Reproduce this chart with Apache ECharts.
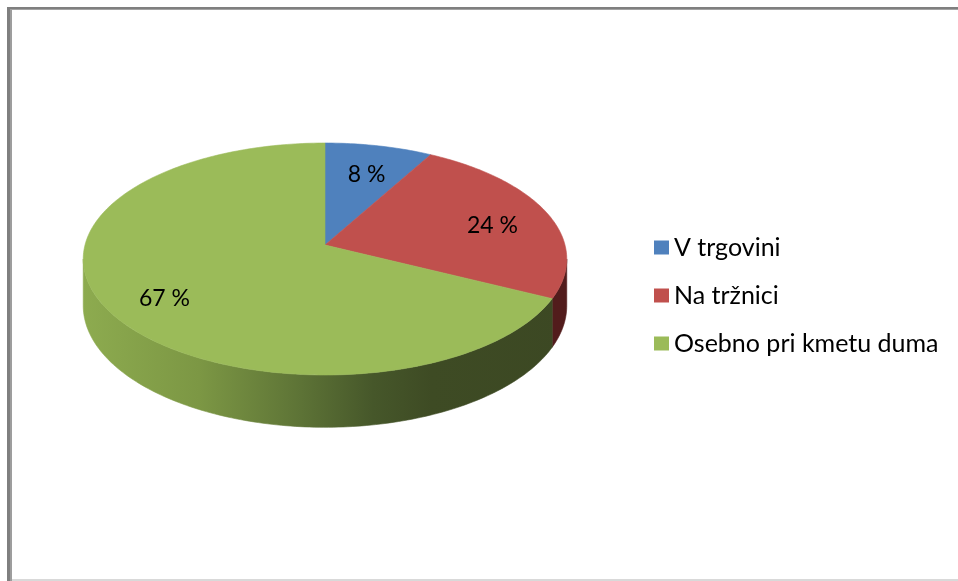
<!DOCTYPE html>
<html>
<head>
<meta charset="utf-8">
<script src="https://cdn.jsdelivr.net/npm/echarts@6/dist/echarts.min.js"></script>
<style>
  html, body { margin: 0; padding: 0; background: #fff; }
  #chart { width: 958px; height: 581px; }
</style>
</head>
<body>
<div id="chart"></div>
<script>
// data
const categories = ['V trgovini', 'Na tržnici', 'Osebno pri kmetu duma'];
const values = [8, 24, 67];

// styles
const topColors = ['#4f81bd', '#c0504d', '#9bbb59'];
const sideColors = [
  '#2b4668',
  '#521c1c',
  {
    type: 'linear', x: 83, y: 0, x2: 567, y2: 0, global: true,
    colorStops: [
      { offset: 0, color: '#8dab4f' },
      { offset: 0.24, color: '#7c9744' },
      { offset: 0.45, color: '#5d7336' },
      { offset: 0.6, color: '#46572a' },
      { offset: 0.72, color: '#3e4b24' },
      { offset: 1, color: '#3c4823' }
    ]
  }
];
const labelFont = '23px Lato';

// pie geometry (tilted disc with a bit of perspective)
const pie = { cx: 325, cy: 245, rx: 240, ry: 114.3, persp: 0.1207, depth: 46, labelR: 0.75, labelDz: 0.13 };

const proj = (r, deg, dz) => {
  const t = deg * Math.PI / 180;
  const u = r * Math.sin(t), v = r * Math.cos(t);
  const s = 1 / (1 + pie.persp * v);
  return [pie.cx + pie.rx * u * s, pie.cy - pie.ry * v * s + pie.depth * s * dz];
};

const arc = (a, b, dz) => {
  let pts = [];
  const n = Math.max(2, Math.ceil(Math.abs(b - a)));
  for (let k = 0; k <= n; k++) {
    pts.push(proj(1, a + (b - a) * k / n, dz));
  }
  return pts;
};

const total = values.reduce((s, v) => s + v, 0);
// visible side runs between the two silhouette tangents
const tL = Math.acos(-pie.persp) * 180 / Math.PI;
const tR = 360 - tL;

const renderSlice = (params, api) => {
  const i = params.seriesIndex;
  const before = values.slice(0, i).reduce((s, v) => s + v, 0);
  const start = before / total * 360;
  const end = start + api.value(0) / total * 360;
  let children = [];
  const a = Math.max(start, tL), b = Math.min(end, tR);
  if (a < b) {
    children.push({
      type: 'polygon',
      shape: { points: arc(a, b, 0).concat(arc(b, a, 1)) },
      style: { fill: sideColors[i], stroke: sideColors[i], lineWidth: 0.6 }
    });
  }
  children.push({
    type: 'polygon',
    shape: { points: [[pie.cx, pie.cy]].concat(arc(start, end, 0)) },
    style: { fill: topColors[i], stroke: topColors[i], lineWidth: 0.6 }
  });
  const lp = proj(pie.labelR, (start + end) / 2, pie.labelDz);
  children.push({
    type: 'text',
    x: lp[0],
    y: lp[1],
    style: {
      text: api.value(0) + ' %',
      font: labelFont,
      fill: '#000',
      align: 'center',
      verticalAlign: 'middle'
    }
  });
  return { type: 'group', children };
};

const series = categories.map((name, i) => ({
  name,
  type: 'custom',
  coordinateSystem: 'none',
  silent: true,
  animation: false,
  itemStyle: { color: topColors[i] },
  data: [[values[i]]],
  renderItem: renderSlice
}));

const option = {
  backgroundColor: '#fff',
  animation: false,
  legend: {
    orient: 'vertical',
    left: 654,
    top: 235,
    padding: 0,
    icon: 'rect',
    itemWidth: 15,
    itemHeight: 14,
    itemGap: 23,
    selectedMode: false,
    data: categories,
    textStyle: { fontFamily: 'Lato', fontSize: 25, lineHeight: 25, color: '#000' }
  },
  graphic: [
    // frame round the chart
    { type: 'rect', shape: { x: 7, y: 7, width: 3, height: 574 }, style: { fill: '#7f7f7f' } },
    { type: 'rect', shape: { x: 10, y: 7, width: 2, height: 574 }, style: { fill: '#9d9d9d' } },
    { type: 'rect', shape: { x: 7, y: 7, width: 951, height: 2 }, style: { fill: '#7f7f7f' } },
    { type: 'rect', shape: { x: 10, y: 9, width: 948, height: 1 }, style: { fill: '#a3a3a3' } },
    { type: 'rect', shape: { x: 12, y: 579, width: 946, height: 2 }, style: { fill: '#d9d9d9' } }
  ],
  series
};

let myChart = echarts.init(document.getElementById('chart'));
myChart.setOption(option);
</script>
</body>
</html>
